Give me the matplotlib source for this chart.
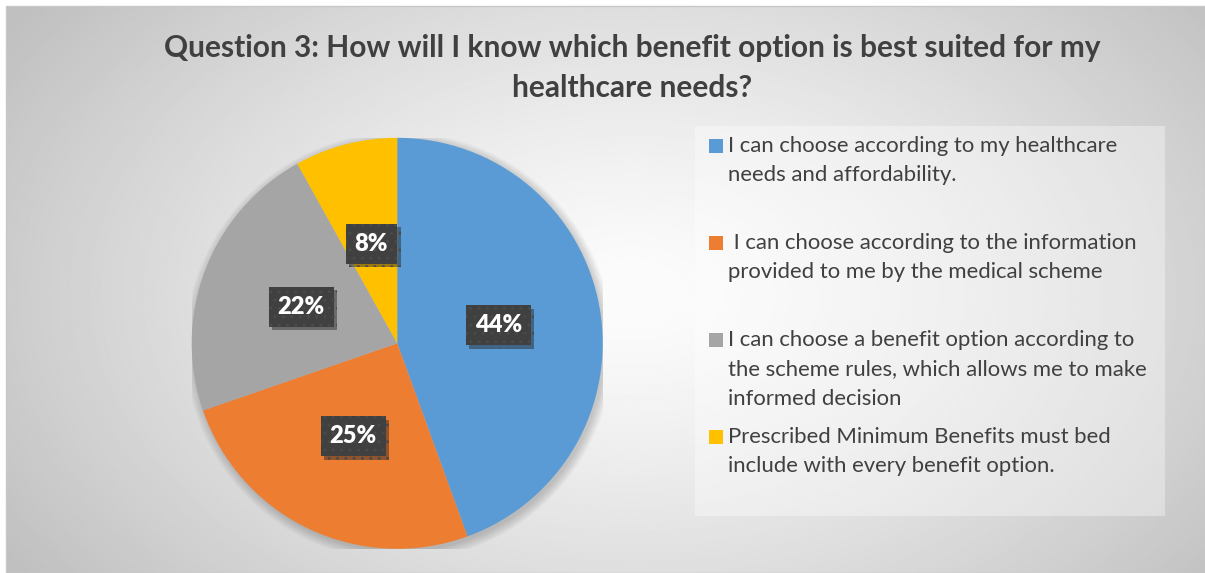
import numpy as np
import matplotlib.pyplot as plt
from matplotlib import patheffects
from matplotlib.patches import Rectangle, Circle

plt.rcParams["font.family"] = ["Lato", "DejaVu Sans"]

TITLE = "Question 3: How will I know which benefit option is best suited for my\nhealthcare needs?"

categories = [
    "I can choose according to my healthcare\nneeds and affordability.",
    " I can choose according to the information\nprovided to me by the medical scheme",
    "I can choose a benefit option according to\nthe scheme rules, which allows me to make\ninformed decision",
    "Prescribed Minimum Benefits must bed\ninclude with every benefit option.",
]
shares = [44, 25, 22, 8]
colors = ["#5b9bd5", "#ed7d31", "#a5a5a5", "#ffc000"]

W, H = 1205, 573
fig = plt.figure(figsize=(W / 100, H / 100), dpi=100)
fig.patch.set_facecolor("white")

# soft radial gradient behind everything
bg = fig.add_axes([6 / W, 0, 1 - 6 / W, 1 - 6 / H])
yy, xx = np.mgrid[0:H, 0:W]
d = np.sqrt(((xx - 630) / (W * 0.62)) ** 2 + ((yy - 290) / (H * 0.85)) ** 2)
shade = 252 - (252 - 192) * np.clip(d, 0, 1) ** 1.3
bg.imshow(shade, cmap="gray", vmin=0, vmax=255, aspect="auto", interpolation="bilinear")
bg.set_axis_off()
fig.add_artist(Rectangle((6 / W, 0), 1 - 6 / W, 1 - 6 / H, transform=fig.transFigure,
                         fill=False, edgecolor="#c8c8c8", linewidth=1))

fig.text(632 / W, 1 - 34 / H, TITLE, ha="center", va="top", fontsize=21.5,
         fontweight="bold", color="#404040", linespacing=1.52)

# pie
R = 205.5
cx, cy = 397.2, H - 343.3
ax = fig.add_axes([(cx - R) / W, (cy - R) / H, 2 * R / W, 2 * R / H])
ax.set_axis_off()

# faint halo under the pie
for k in range(8):
    ax.add_patch(Circle((0.01, -0.015), 1.0 + 0.006 * k, color="black",
                        alpha=0.025, zorder=0, linewidth=0))

wedges, _ = ax.pie(shares, colors=colors, startangle=90, counterclock=False,
                   radius=1, wedgeprops=dict(linewidth=0))
ax.set_aspect("auto")
ax.set_xlim(-1, 1)
ax.set_ylim(-1, 1)
for w in wedges:
    w.set_zorder(2)

for w, v in zip(wedges, shares):
    mid = np.deg2rad((w.theta1 + w.theta2) / 2)
    t = ax.text(0.5 * np.cos(mid), 0.5 * np.sin(mid), f"{v}%", ha="center", va="center",
                fontsize=17, fontweight="heavy", color="white", zorder=5,
                bbox=dict(boxstyle="square,pad=0.38", facecolor="#404040",
                          edgecolor="#4a4a4a", hatch="..", linewidth=0))
    t.get_bbox_patch().set_path_effects([
        patheffects.SimplePatchShadow(offset=(2.5, -2.5), alpha=0.45, shadow_rgbFace="#222222"),
        patheffects.Normal(),
    ])

# legend panel with equally spaced entries
lx0, ly0, lx1, ly1 = 695, 126, 1165, 516
fig.add_artist(Rectangle((lx0 / W, 1 - ly1 / H), (lx1 - lx0) / W, (ly1 - ly0) / H,
                         transform=fig.transFigure, facecolor="white", alpha=0.35,
                         edgecolor="none"))
step = 97
for i, (label, c) in enumerate(zip(categories, colors)):
    mid = 146 + i * step
    fig.add_artist(Rectangle((709 / W, 1 - (mid + 7) / H), 14 / W, 14 / H,
                             transform=fig.transFigure, facecolor=c, edgecolor="none"))
    fig.text(728 / W, 1 - (mid - 10) / H, label, ha="left", va="top", fontsize=15.9,
             color="#404040", linespacing=1.58)

fig.savefig("out.png", dpi=100)
